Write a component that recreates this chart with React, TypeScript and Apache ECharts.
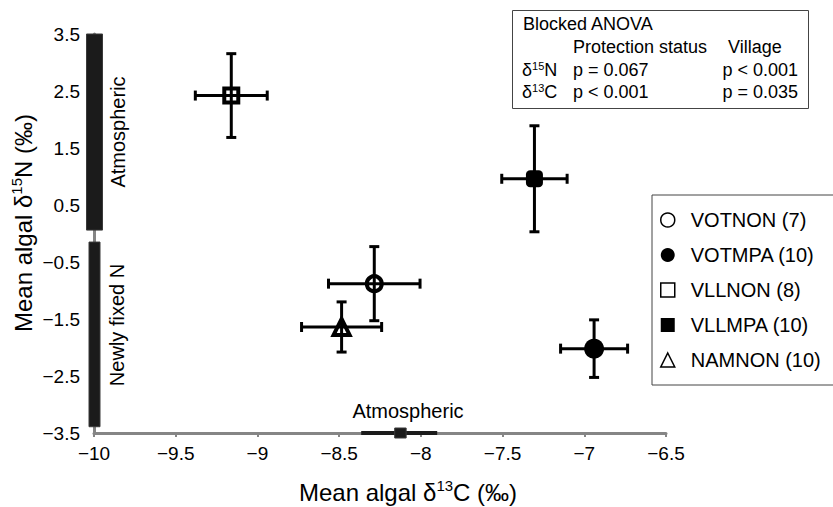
import React, { useEffect, useRef } from "react";
import * as echarts from "echarts";

const FONT = "'Liberation Sans', Arial, Helvetica, sans-serif";

// Groups (legend labels)
const groups = ["VOTNON (7)", "VOTMPA (10)", "VLLNON (8)", "VLLMPA (10)", "NAMNON (10)"];
// Mean algal δ13C (x) and δ15N (y), with error half-widths
const meanC = [-8.285, -6.94, -9.16, -7.305, -8.485];
const meanN = [-0.88, -2.02, 2.42, 0.96, -1.64];
const errC = [0.28, 0.205, 0.22, 0.2, 0.245];
const errN = [0.65, 0.505, 0.735, 0.93, 0.44];

// Reference ranges
const atmN = [0.06, 3.5];
const fixedN = [-3.39, -0.15];
const atmCWhisker = [-8.365, -7.9];
const atmCBox = [-8.16, -8.09];

// Axis ticks
const xTicks = { min: -10, max: -6.5, interval: 0.5 };
const yTicks = { min: -3.5, max: 3.5, interval: 0.5 };

// ANOVA table
const anovaHeader = ["Protection status", "Village"];
const anovaRows = [
  { iso: "15", el: "N", prot: "p = 0.067", vil: "p < 0.001" },
  { iso: "13", el: "C", prot: "p < 0.001", vil: "p = 0.035" },
];

const symbols = ["circle", "circle", "rect", "roundRect", "triangle"];
const legendIcons = ["circle", "circle", "rect", "rect", "triangle"];
const openMarker = [true, false, true, false, true];
const symbolSizes = [15, 20, 14, 17, 16];

const fmt = (v: number) => String(v).replace("-", "\u2212");

export default function App() {
  const ref = useRef<HTMLDivElement>(null);
  useEffect(() => {
    document.body.style.margin = "0";
    const chart = echarts.init(ref.current!, null, { renderer: "svg" });

    const scatterSeries = groups.map((g, i) => ({
      type: "scatter",
      name: g,
      z: 3,
      symbol: symbols[i],
      symbolSize: symbolSizes[i],
      data: [[meanC[i], meanN[i]]],
      itemStyle: openMarker[i]
        ? { color: "#fff", borderColor: "#000", borderWidth: 4, opacity: 1 }
        : { color: "#000", borderWidth: 0, opacity: 1 },
      emphasis: { disabled: true },
    }));

    const errorSeries = {
      type: "custom",
      name: "err",
      z: 4,
      data: meanC.map((c, i) => [c, meanN[i], errC[i], errN[i]]),
      renderItem: (params: any, api: any) => {
        const x = api.value(0), y = api.value(1), ex = api.value(2), ey = api.value(3);
        const l = api.coord([x - ex, y]);
        const r = api.coord([x + ex, y]);
        const t = api.coord([x, y + ey]);
        const b = api.coord([x, y - ey]);
        const cap = 5;
        const st = { stroke: "#000", lineWidth: 3 };
        const ln = (x1: number, y1: number, x2: number, y2: number) => ({
          type: "line",
          shape: { x1, y1, x2, y2 },
          style: st,
        });
        return {
          type: "group",
          children: [
            ln(l[0], l[1], r[0], r[1]),
            ln(t[0], t[1], b[0], b[1]),
            ln(l[0], l[1] - cap, l[0], l[1] + cap),
            ln(r[0], r[1] - cap, r[0], r[1] + cap),
            ln(t[0] - cap, t[1], t[0] + cap, t[1]),
            ln(b[0] - cap, b[1], b[0] + cap, b[1]),
          ],
        };
      },
    };

    const verticalRanges = {
      type: "custom",
      name: "rangesN",
      z: 2,
      data: [
        [xTicks.min, atmN[0], atmN[1], 0],
        [xTicks.min, fixedN[0], fixedN[1], 1],
      ],
      renderItem: (params: any, api: any) => {
        const x = api.value(0);
        const lo = api.coord([x, api.value(1)]);
        const hi = api.coord([x, api.value(2)]);
        const w = api.value(3) === 0 ? 16 : 11;
        return {
          type: "rect",
          shape: { x: lo[0] - w / 2 + 0.5, y: hi[1], width: w, height: lo[1] - hi[1] },
          style: { fill: "#1b1b1b", stroke: "#3a3a3a", lineWidth: 1 },
        };
      },
    };

    const horizontalRanges = {
      type: "custom",
      name: "rangesC",
      z: 2,
      data: [[atmCWhisker[0], atmCWhisker[1], yTicks.min, atmCBox[0], atmCBox[1]]],
      renderItem: (params: any, api: any) => {
        const y = api.value(2);
        const a = api.coord([api.value(0), y]);
        const b = api.coord([api.value(1), y]);
        const c = api.coord([api.value(3), y]);
        const d = api.coord([api.value(4), y]);
        return {
          type: "group",
          children: [
            {
              type: "rect",
              shape: { x: a[0], y: a[1] - 2, width: b[0] - a[0], height: 4 },
              style: { fill: "#1b1b1b" },
            },
            {
              type: "rect",
              shape: { x: c[0], y: c[1] - 5, width: d[0] - c[0], height: 10 },
              style: { fill: "#1b1b1b", stroke: "#3a3a3a", lineWidth: 1 },
            },
          ],
        };
      },
    };

    const mainRich = (size: number, lh: number) => ({
      m: { fontSize: size, fontFamily: FONT, color: "#000", lineHeight: lh },
      s: { fontSize: Math.round(size * 0.62), fontFamily: FONT, color: "#000", lineHeight: Math.round(size * 0.7), verticalAlign: "top" },
    });

    const graphics: any[] = [
      // axis titles
      {
        type: "text",
        x: 408,
        y: 492,
        style: {
          text: "{m|Mean algal \u03b4}{s|13}{m|C (\u2030)}",
          rich: mainRich(24, 28),
          align: "center",
          verticalAlign: "middle",
        },
      },
      {
        type: "text",
        x: 23,
        y: 223,
        rotation: Math.PI / 2,
        style: {
          text: "{m|Mean algal \u03b4}{s|15}{m|N (\u2030)}",
          rich: mainRich(24, 28),
          align: "center",
          verticalAlign: "middle",
        },
      },
      // range labels
      {
        type: "text",
        x: 118,
        y: 132,
        rotation: Math.PI / 2,
        style: { text: "Atmospheric", font: `20px ${FONT}`, fill: "#000", align: "center", verticalAlign: "middle" },
      },
      {
        type: "text",
        x: 117,
        y: 325,
        rotation: Math.PI / 2,
        style: { text: "Newly fixed N", font: `20px ${FONT}`, fill: "#000", align: "center", verticalAlign: "middle" },
      },
      {
        type: "text",
        x: 408,
        y: 411,
        style: { text: "Atmospheric", font: `20px ${FONT}`, fill: "#000", align: "center", verticalAlign: "middle" },
      },
      // ANOVA box
      {
        type: "rect",
        shape: { x: 512.5, y: 10.5, width: 296, height: 98 },
        style: { fill: "#fff", stroke: "#444", lineWidth: 1 },
      },
      {
        type: "text",
        x: 523,
        y: 24,
        style: { text: "Blocked ANOVA", font: `18px ${FONT}`, fill: "#000", align: "left", verticalAlign: "middle" },
      },
      {
        type: "text",
        x: 573,
        y: 47,
        style: { text: anovaHeader[0], font: `18px ${FONT}`, fill: "#000", align: "left", verticalAlign: "middle" },
      },
      {
        type: "text",
        x: 728,
        y: 47,
        style: { text: anovaHeader[1], font: `18px ${FONT}`, fill: "#000", align: "left", verticalAlign: "middle" },
      },
    ];
    anovaRows.forEach((row, i) => {
      const y = 70 + i * 22;
      graphics.push(
        {
          type: "text",
          x: 522,
          y,
          style: {
            text: `{m|\u03b4}{s|${row.iso}}{m|${row.el}}`,
            rich: mainRich(18, 20),
            align: "left",
            verticalAlign: "middle",
          },
        },
        {
          type: "text",
          x: 573,
          y,
          style: { text: row.prot, font: `18px ${FONT}`, fill: "#000", align: "left", verticalAlign: "middle" },
        },
        {
          type: "text",
          x: 798,
          y,
          style: { text: row.vil, font: `18px ${FONT}`, fill: "#000", align: "right", verticalAlign: "middle" },
        }
      );
    });

    chart.setOption({
      animation: false,
      backgroundColor: "#fff",
      grid: { left: 94, right: 167, top: 34, bottom: 74, containLabel: false },
      xAxis: {
        type: "value",
        min: xTicks.min,
        max: xTicks.max,
        interval: xTicks.interval,
        splitLine: { show: false },
        axisLine: { show: true, onZero: false, lineStyle: { color: "#858585", width: 3 } },
        axisTick: { show: true, length: 4, lineStyle: { color: "#858585", width: 2 } },
        axisLabel: {
          margin: 11,
          fontSize: 19,
          fontFamily: FONT,
          color: "#000",
          formatter: (v: number) => fmt(v),
        },
      },
      yAxis: {
        type: "value",
        min: yTicks.min,
        max: yTicks.max,
        interval: yTicks.interval,
        splitLine: { show: false },
        axisLine: { show: true, onZero: false, lineStyle: { color: "#858585", width: 3 } },
        axisTick: { show: false },
        axisLabel: {
          margin: 14,
          fontSize: 19,
          fontFamily: FONT,
          color: "#000",
          formatter: (v: number) => (Math.abs(Math.round(v * 2)) % 2 === 1 ? fmt(v) : ""),
        },
      },
      legend: {
        orient: "vertical",
        left: 652,
        top: 195,
        data: groups.map((g, i) => ({
          name: g,
          icon: legendIcons[i],
          itemStyle: openMarker[i]
            ? { color: "#fff", borderColor: "#000", borderWidth: 1.5, opacity: 1 }
            : { color: "#000", borderWidth: 0, opacity: 1 },
        })),
        itemWidth: 14,
        itemHeight: 14,
        itemGap: 15,
        selectedMode: false,
        textStyle: { fontSize: 20, fontFamily: FONT, color: "#000", lineHeight: 20, padding: [0, 0, 0, 11] },
        borderColor: "#444",
        borderWidth: 1,
        padding: [15, 40, 15, 8],
      },
      graphic: graphics,
      series: [verticalRanges, horizontalRanges, ...scatterSeries, errorSeries],
    });
    return () => chart.dispose();
  }, []);
  return <div ref={ref} style={{ width: 833, height: 507 }} />;
}
